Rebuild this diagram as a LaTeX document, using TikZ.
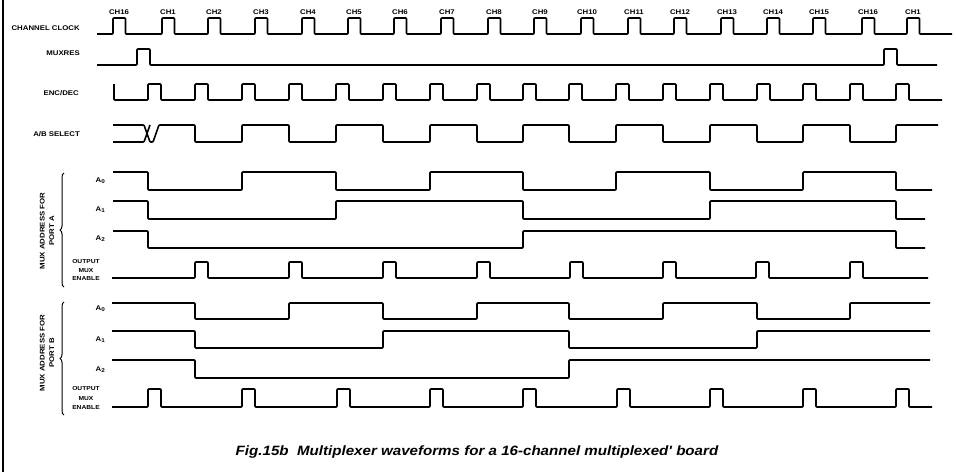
\documentclass[tikz,border=0pt]{standalone}
\usepackage{fontspec}
\usetikzlibrary{decorations.pathreplacing}
\newfontfamily\lblfont[FakeStretch=1.15]{Liberation Sans}
\newfontfamily\capfont[FakeStretch=1.12]{Liberation Sans}
\begin{document}
\begin{tikzpicture}[x=1pt,y=-1pt,
  wave/.style={line width=1.6pt,line join=round,rounded corners=0.8pt},
  lbl/.style={font={\lblfont\bfseries\fontsize{6.8}{7.5}\selectfont},inner sep=0pt},
  brc/.style={line width=1pt,decorate,decoration={brace,amplitude=4pt}}]
\fill[white] (0,0) rectangle (956,474);
\useasboundingbox (0,0) rectangle (956,474);
% left frame line
\draw[line width=1.5pt] (3,0) -- (3,472);
% channel labels
\foreach \x/\t [count=\i] in {113/CH16,162/CH1,208/CH2,255/CH3,302/CH4,348/CH5,394/CH6,441/CH7,488/CH8,534/CH9,581/CH10,628/CH11,674/CH12,721/CH13,767/CH14,813/CH15,862/CH16,907/CH1}
  \node[lbl] (ch\i) at ({\x+6},12) {\t};
% left labels
\node[lbl,anchor=east] (lclk) at (80,28) {CHANNEL CLOCK};
\node[lbl,anchor=east] (lmux) at (80,53) {MUXRES};
\node[lbl,anchor=east] (lenc) at (79,93) {ENC/DEC};
\node[lbl,anchor=east] (lab) at (80,134) {A/B SELECT};
% channel clock
\draw[wave] (97,34) foreach \x in {113,162,208,255,302,348,394,441,488,534,581,628,674,721,767,813,862,907}
  { -- (\x,34) -- (\x,18) -- ({\x+12.5},18) -- ({\x+12.5},34) } -- (952,34);
% MUXRES
\draw[wave] (97,65) -- (137,65) -- (137,49) -- (150,49) -- (150,65) -- (884,65) -- (884,49) -- (897,49) -- (897,65) -- (937,65);
% ENC/DEC
\draw[wave] (114,84) -- (114,100) foreach \x in {148,195,242,289,336,383,430,477,523,569,616,663,710,757,803,850,896}
  { -- (\x,100) -- (\x,84) -- ({\x+13},84) -- ({\x+13},100) } -- (942,100);
% A/B SELECT
\draw[wave] (113,142) -- (144,142) -- (150,125);
\draw[wave] (113,125) -- (144,125) -- (150,142) -- (153,142) -- (159,125) -- (195,125) -- (195,142) -- (242,142) -- (242,125) -- (289,125) -- (289,142) -- (336,142) -- (336,125) -- (383,125) -- (383,142) -- (430,142) -- (430,125) -- (477,125) -- (477,142) -- (523,142) -- (523,125) -- (569,125) -- (569,142) -- (616,142) -- (616,125) -- (663,125) -- (663,142) -- (710,142) -- (710,125) -- (757,125) -- (757,142) -- (803,142) -- (803,125) -- (850,125) -- (850,142) -- (896,142) -- (896,125) -- (938,125);
% ---- Port A
\draw[brc] (64,287) -- (64,173) node[midway] (bra) {};
\node[lbl,rotate=90,align=center] (pa) at (47,231) {MUX ADDRESS FOR\\[2pt]PORT A};
\node[lbl,anchor=east] (aa0) at (105,181) {A\raisebox{-1pt}{\fontsize{5.5}{5}\selectfont 0}};
\node[lbl,anchor=east] (aa1) at (105,210) {A\raisebox{-1pt}{\fontsize{5.5}{5}\selectfont 1}};
\node[lbl,anchor=east] (aa2) at (105,239) {A\raisebox{-1pt}{\fontsize{5.5}{5}\selectfont 2}};
\node[lbl,align=center,font={\lblfont\bfseries\fontsize{5.8}{8.5}\selectfont}] (aoe) at (86,270) {OUTPUT\\MUX\\ENABLE};
\draw[wave] (113,172) -- (148,172) -- (148,190) -- (242,190) -- (242,172) -- (336,172) -- (336,190) -- (430,190) -- (430,172) -- (523,172) -- (523,190) -- (616,190) -- (616,172) -- (710,172) -- (710,190) -- (803,190) -- (803,172) -- (896,172) -- (896,190) -- (932,190);
\draw[wave] (113,201) -- (148,201) -- (148,219) -- (336,219) -- (336,201) -- (523,201) -- (523,219) -- (710,219) -- (710,201) -- (896,201) -- (896,219) -- (925,219);
\draw[wave] (113,231) -- (148,231) -- (148,248) -- (523,248) -- (523,231) -- (896,231) -- (896,248) -- (925,248);
\draw[wave] (112,278) foreach \x in {195,289,383,477,570,663,756,850}
  { -- (\x,278) -- (\x,262) -- ({\x+13},262) -- ({\x+13},278) } -- (928,278);
% ---- Port B
\draw[brc] (64,415) -- (64,302) node[midway] (brb) {};
\node[lbl,rotate=90,align=center] (pb) at (47,353) {MUX ADDRESS FOR\\[2pt]PORT B};
\node[lbl,anchor=east] (ba0) at (105,309) {A\raisebox{-1pt}{\fontsize{5.5}{5}\selectfont 0}};
\node[lbl,anchor=east] (ba1) at (105,340) {A\raisebox{-1pt}{\fontsize{5.5}{5}\selectfont 1}};
\node[lbl,anchor=east] (ba2) at (105,370) {A\raisebox{-1pt}{\fontsize{5.5}{5}\selectfont 2}};
\node[lbl,align=center,font={\lblfont\bfseries\fontsize{5.8}{9.5}\selectfont}] (boe) at (86,398) {OUTPUT\\MUX\\ENABLE};
\draw[wave] (112,303) -- (195,303) -- (195,319) -- (289,319) -- (289,303) -- (383,303) -- (383,319) -- (477,319) -- (477,303) -- (569,303) -- (569,319) -- (663,319) -- (663,303) -- (757,303) -- (757,319) -- (850,319) -- (850,303) -- (930,303);
\draw[wave] (112,331) -- (195,331) -- (195,348) -- (383,348) -- (383,331) -- (569,331) -- (569,348) -- (757,348) -- (757,331) -- (930,331);
\draw[wave] (112,360) -- (195,360) -- (195,378) -- (569,378) -- (569,360) -- (930,360);
\draw[wave] (112,407) foreach \x in {148,242,337,430,523,617,710,803,896}
  { -- (\x,407) -- (\x,389) -- ({\x+13},389) -- ({\x+13},407) } -- (932,407);
% caption
\node[inner sep=0pt,font={\capfont\bfseries\itshape\fontsize{13.5}{15}\selectfont}] (cap) at (477,452) {Fig.15b\ \ Multiplexer waveforms for a 16-channel multiplexed' board};
\end{tikzpicture}
\end{document}
